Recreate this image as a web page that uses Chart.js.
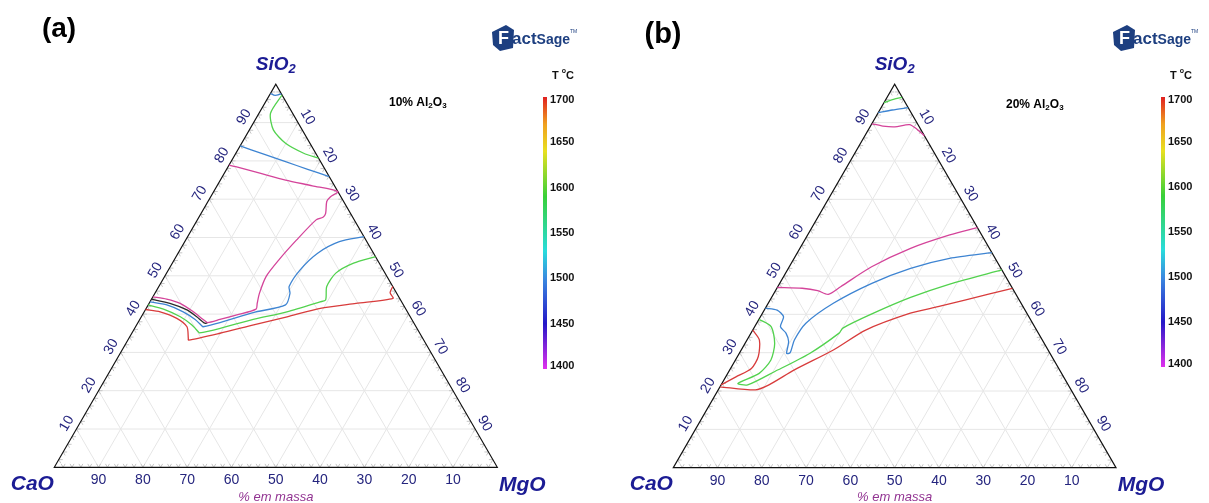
<!DOCTYPE html>
<html>
<head>
<meta charset="utf-8">
<script src="https://cdn.jsdelivr.net/npm/chart.js@4.4.1/dist/chart.umd.min.js"></script>
<style>
  html, body { margin: 0; padding: 0; background: #fff; }
  #wrap { position: relative; width: 1209px; height: 503px; overflow: hidden; }
  .pane { position: absolute; top: 0; height: 503px; }
</style>
</head>
<body>
<div id="wrap">
  <div class="pane" style="left:0;width:604px"><canvas id="chartA" width="604" height="503"></canvas></div>
  <div class="pane" style="left:604px;width:605px"><canvas id="chartB" width="605" height="503"></canvas></div>
</div>
<script>
// ternary ticks (wt%) and colour bar ticks (deg C)
const ternTicks = [10, 20, 30, 40, 50, 60, 70, 80, 90];
const minorTicks = [2, 4, 6, 8, 12, 14, 16, 18, 22, 24, 26, 28, 32, 34, 36, 38, 42, 44, 46, 48,
  52, 54, 56, 58, 62, 64, 66, 68, 72, 74, 76, 78, 82, 84, 86, 88, 92, 94, 96, 98];
const tempTicks = [1400, 1450, 1500, 1550, 1600, 1650, 1700];
// colour scale of the bar
const barStops = [1400, 1450, 1500, 1530, 1590, 1640, 1670, 1700];
const barColors = ["#e030ee", "#2418c8", "#3a8ae0", "#28dcdc", "#38d038", "#e8e020", "#f0a020", "#e02020"];
// isotherm temperatures and line colours
const isoTemps = [1400, 1450, 1500, 1600, 1700];
const isoColors = ["#d4449a", "#2a2a2a", "#3d84d2", "#52d24e", "#d83c3c"];

// isotherms, points are [SiO2 wt%, MgO wt%] (CaO = rest)
// (a) 10% Al2O3
const aRed = [[41.2, 0], [40.6, 3.6], [38.9, 8.2], [36.7, 11.6], [33.7, 13.4], [33.2, 13.7], [35.0, 19.9],
  [37.2, 26.4], [39.3, 32.9], [41.5, 39.3], [42.8, 46.7], [44.1, 54.4], [45.6, 53.0], [47.2, 52.8]];
const aGreen = [[42.4, 0], [41.3, 4.0], [39.3, 8.8], [37.2, 12.4], [35.4, 14.8], [35.1, 15.2], [36.3, 19.3],
  [38.6, 25.6], [40.6, 32.2], [43.2, 38.4], [43.7, 39.4], [47.2, 37.9], [50.7, 38.2], [53.3, 40.9], [55.0, 45.0]];
const aGreenTop = [[97.2, 2.8], [92.4, 2.6], [88.1, 5.4], [84.6, 9.9], [82.0, 15.3], [80.7, 19.3]];
const aBlue = [[43.2, 0], [42.4, 4.2], [40.6, 8.8], [38.6, 12.5], [36.9, 14.9], [36.7, 15.2], [37.8, 18.5],
  [40.4, 24.7], [42.4, 31.0], [45.4, 30.5], [47.2, 29.4], [51.5, 29.7], [55.9, 31.5], [58.9, 34.9], [60.2, 39.8]];
const aBlueTop = [[83.9, 0], [81.9, 6.0], [79.8, 12.3], [77.8, 18.3], [75.9, 24.1]];
const aBlueApex = [[97.6, 0], [97.1, 1.3], [97.5, 2.5]];
const aBlack = [[43.9, 0], [42.8, 4.7], [41.1, 9.4], [39.3, 12.5], [37.6, 15.2], [37.8, 15.7]];
const aMagenta = [[78.9, 0], [78.5, 1.7], [76.8, 8.0], [75.0, 14.7], [73.5, 21.5], [72.0, 28.0],
  [70.6, 27.0], [69.4, 26.8], [66.3, 28.1], [65.3, 28.0], [64.6, 26.8], [59.3, 25.0], [54.1, 23.6],
  [49.8, 22.9], [45.4, 23.6], [42.8, 24.4], [41.3, 24.9], [39.8, 21.3], [38.6, 18.1], [37.8, 15.7],
  [38.6, 14.3], [40.6, 11.1], [42.8, 7.0], [43.9, 3.4], [44.5, 0]];

// (b) 20% Al2O3
const bRedTop = [[35.9, 0], [33.3, 2.8], [29.0, 4.7], [25.9, 4.7], [23.7, 2.3], [21.6, 0]];
const bRed = [[21.1, 0], [20.3, 8.4], [21.6, 10.8], [25.5, 14.6], [30.7, 20.8], [35.9, 25.5], [40.3, 33.4],
  [42.0, 38.8], [43.7, 44.0], [46.8, 53.2]];
const bGreen = [[38.7, 0], [36.8, 3.7], [32.4, 6.7], [28.1, 8.0], [24.6, 7.1], [22.0, 3.6], [21.6, 6.0],
  [25.1, 10.4], [29.8, 15.9], [35.1, 19.9], [36.4, 20.1], [40.1, 24.8], [44.4, 31.4], [47.9, 38.5], [51.6, 48.4]];
const bGreenTop = [[95.2, 0], [96.0, 1.5], [96.6, 3.4]];
const bBlueTop = [[92.6, 0], [93.3, 2.8], [93.9, 6.1]];
const bBlue = [[41.6, 0], [41.1, 2.9], [39.4, 5.2], [36.8, 5.8], [35.1, 7.9], [32.9, 9.6], [29.8, 10.7],
  [30.0, 11.4], [33.3, 10.7], [37.7, 11.1], [42.9, 14.7], [48.1, 20.8], [52.0, 27.6], [54.6, 35.1], [56.1, 43.9]];
const bMagentaTop = [[89.7, 0], [89.1, 2.8], [88.9, 5.6], [89.5, 8.6], [88.3, 10.9], [86.6, 13.4]];
const bMagenta = [[47.0, 0], [46.8, 5.7], [46.2, 9.5], [45.2, 12.4], [47.2, 14.2], [52.4, 18.6], [57.2, 25.0],
  [60.7, 32.1], [62.6, 37.4]];

const curvesA = [[aRed, 1700], [aGreen, 1600], [aGreenTop, 1600], [aBlue, 1500], [aBlueTop, 1500],
  [aBlueApex, 1500], [aMagenta, 1400], [aBlack, 1450]];
const curvesB = [[bRedTop, 1700], [bRed, 1700], [bGreen, 1600], [bGreenTop, 1600], [bBlueTop, 1500],
  [bBlue, 1500], [bMagentaTop, 1400], [bMagenta, 1400]];

const SQ = Math.sqrt(3) / 2;
const FONT = "'Liberation Sans', Arial, sans-serif";
const NAVY = "#1c1c94";

// CaO at (0,0), MgO at (100,0), SiO2 on top
function tern(s, m) {
  return { x: m + s / 2, y: s * SQ };
}

function pix(chart, s, m) {
  const p = tern(s, m);
  return [chart.scales.x.getPixelForValue(p.x), chart.scales.y.getPixelForValue(p.y)];
}

function line(ctx, a, b) {
  ctx.beginPath();
  ctx.moveTo(a[0], a[1]);
  ctx.lineTo(b[0], b[1]);
  ctx.stroke();
}

// draws text runs (text, font, dy) side by side
function rich(ctx, runs, x, y, align) {
  let w = 0;
  runs.forEach(r => { ctx.font = r[1]; w += ctx.measureText(r[0]).width; });
  let cx = align === "center" ? x - w / 2 : align === "right" ? x - w : x;
  ctx.textAlign = "left";
  runs.forEach(r => {
    ctx.font = r[1];
    ctx.fillText(r[0], cx, y + (r[2] || 0));
    cx += ctx.measureText(r[0]).width;
  });
}

const ternaryPlugin = {
  id: "ternary",
  beforeDatasetsDraw(chart) {
    const ctx = chart.ctx;
    ctx.save();
    // light grid
    ctx.strokeStyle = "#e6e6e6";
    ctx.lineWidth = 1;
    ternTicks.forEach(v => {
      line(ctx, pix(chart, v, 0), pix(chart, v, 100 - v));
      line(ctx, pix(chart, 0, v), pix(chart, 100 - v, v));
      line(ctx, pix(chart, 0, 100 - v), pix(chart, 100 - v, 0));
    });
    // small ticks along the edges
    ctx.strokeStyle = "#c6c6c6";
    const t = 0.9;
    minorTicks.concat(ternTicks).forEach(v => {
      // base (SiO2 = 0)
      line(ctx, pix(chart, 0, v), pix(chart, t, v));
      line(ctx, pix(chart, 0, v), pix(chart, t, v - t));
      // left edge (MgO = 0)
      line(ctx, pix(chart, v, 0), pix(chart, v, t));
      line(ctx, pix(chart, v, 0), pix(chart, v - t, t));
      // right edge (CaO = 0)
      line(ctx, pix(chart, v, 100 - v), pix(chart, v, 100 - v - t));
      line(ctx, pix(chart, v, 100 - v), pix(chart, v - t, 100 - v));
    });
    // triangle
    ctx.strokeStyle = "#111";
    ctx.lineWidth = 1.2;
    const A = pix(chart, 0, 0), B = pix(chart, 0, 100), C = pix(chart, 100, 0);
    ctx.beginPath();
    ctx.moveTo(A[0], A[1]);
    ctx.lineTo(B[0], B[1]);
    ctx.lineTo(C[0], C[1]);
    ctx.closePath();
    ctx.stroke();
    ctx.restore();
  },
  afterDraw(chart, args, o) {
    const ctx = chart.ctx;
    ctx.save();
    ctx.textBaseline = "middle";
    // axis numbers
    ctx.fillStyle = "#25257e";
    ctx.font = "14px " + FONT;
    ctx.textAlign = "center";
    ternTicks.forEach(v => {
      let p = pix(chart, v, 0);
      ctx.save();
      ctx.translate(p[0] - 0.866 * 11, p[1] - 0.5 * 11);
      ctx.rotate(-Math.PI / 3);
      ctx.fillText(String(v), 0, 0);
      ctx.restore();
      p = pix(chart, 100 - v, v);
      ctx.save();
      ctx.translate(p[0] + 0.866 * 11, p[1] - 0.5 * 11);
      ctx.rotate(Math.PI / 3);
      ctx.fillText(String(v), 0, 0);
      ctx.restore();
      p = pix(chart, 0, 100 - v);
      ctx.fillText(String(v), p[0], p[1] + 13);
    });
    // corner names
    ctx.fillStyle = NAVY;
    const top = pix(chart, 100, 0), ca = pix(chart, 0, 0), mg = pix(chart, 0, 100);
    rich(ctx, [["SiO", "bold italic 19px " + FONT], ["2", "bold italic 13px " + FONT, 5]], top[0], top[1] - 20, "center");
    ctx.font = "bold italic 21px " + FONT;
    ctx.textAlign = "center";
    ctx.fillText("CaO", ca[0] - 22, ca[1] + 17);
    ctx.fillText("MgO", mg[0] + 25, mg[1] + 18);
    ctx.fillStyle = "#923492";
    ctx.font = "italic 13px " + FONT;
    ctx.fillText("% em massa", (ca[0] + mg[0]) / 2, ca[1] + 30);
    // panel letter
    ctx.fillStyle = "#000";
    ctx.font = "bold " + o.letterSize + "px " + FONT;
    ctx.fillText(o.letter, o.letterX, o.letterY);
    // alumina content
    rich(ctx, [[o.alumina + " Al", "bold 12px " + FONT], ["2", "bold 8px " + FONT, 3],
      ["O", "bold 12px " + FONT], ["3", "bold 8px " + FONT, 3]], o.alX, o.alY, "left");
    // colour bar
    const g = ctx.createLinearGradient(0, o.barBot, 0, o.barTop);
    barStops.forEach((t, i) => g.addColorStop((t - 1400) / 300, barColors[i]));
    ctx.fillStyle = g;
    ctx.fillRect(o.barX, o.barTop, 4, o.barBot - o.barTop);
    ctx.fillStyle = "#111";
    tempTicks.forEach(t => {
      const y = o.barBot - (t - 1400) / 300 * (o.barBot - o.barTop) + (t === 1700 ? 3 : t === 1400 ? -3 : 0);
      ctx.font = "bold 11px " + FONT;
      ctx.textAlign = "left";
      ctx.fillText(String(t), o.barX + 7, y);
    });
    rich(ctx, [["T ", "bold 11px " + FONT], ["o", "bold 7px " + FONT, -5], ["C", "bold 11px " + FONT]],
      o.barX + 9, o.barTop - 21, "left");
    // FactSage mark
    const lx = o.logoX, ly = 25;
    ctx.fillStyle = "#1d3f80";
    ctx.beginPath();
    ctx.moveTo(lx, ly + 7);
    ctx.lineTo(lx + 14, ly);
    ctx.lineTo(lx + 22, ly + 5);
    ctx.lineTo(lx + 21, ly + 23);
    ctx.lineTo(lx + 8, ly + 26);
    ctx.lineTo(lx + 1, ly + 20);
    ctx.closePath();
    ctx.fill();
    ctx.fillStyle = "#fff";
    ctx.font = "bold 18px " + FONT;
    ctx.textAlign = "left";
    ctx.fillText("F", lx + 6, ly + 14);
    ctx.fillStyle = "#1d3f80";
    rich(ctx, [["act", "bold 17px " + FONT, 1], ["Sage", "bold 14px " + FONT, 2], ["TM", "5px " + FONT, -6]],
      lx + 20, ly + 13, "left");
    ctx.restore();
  }
};

function makeChart(id, curves, pad, extra) {
  return new Chart(document.getElementById(id), {
    type: "scatter",
    data: {
      datasets: curves.map(c => ({
        data: c[0].map(p => tern(p[0], p[1])),
        showLine: true,
        borderColor: isoColors[isoTemps.indexOf(c[1])],
        borderWidth: 1.3,
        pointRadius: 0,
        tension: 0.25,
        fill: false,
        clip: false
      }))
    },
    options: {
      responsive: false,
      animation: false,
      devicePixelRatio: 1,
      events: [],
      layout: { padding: pad },
      scales: {
        x: { type: "linear", min: 0, max: 100, display: false },
        y: { type: "linear", min: 0, max: 100 * SQ, display: false }
      },
      plugins: {
        legend: { display: false },
        tooltip: { enabled: false },
        ternary: extra
      }
    },
    plugins: [ternaryPlugin]
  });
}

makeChart("chartA", curvesA, { left: 54.3, right: 106.7, top: 84.3, bottom: 35.7 }, {
  letter: "(a)", letterSize: 28, letterX: 59, letterY: 29,
  alumina: "10%", alX: 389, alY: 103,
  barX: 543, barTop: 97, barBot: 369, logoX: 492
});
makeChart("chartB", curvesB, { left: 69.3, right: 93, top: 84.3, bottom: 35.3 }, {
  letter: "(b)", letterSize: 29, letterX: 59, letterY: 35,
  alumina: "20%", alX: 402, alY: 105,
  barX: 557, barTop: 97, barBot: 367, logoX: 509
});
</script>
</body>
</html>
